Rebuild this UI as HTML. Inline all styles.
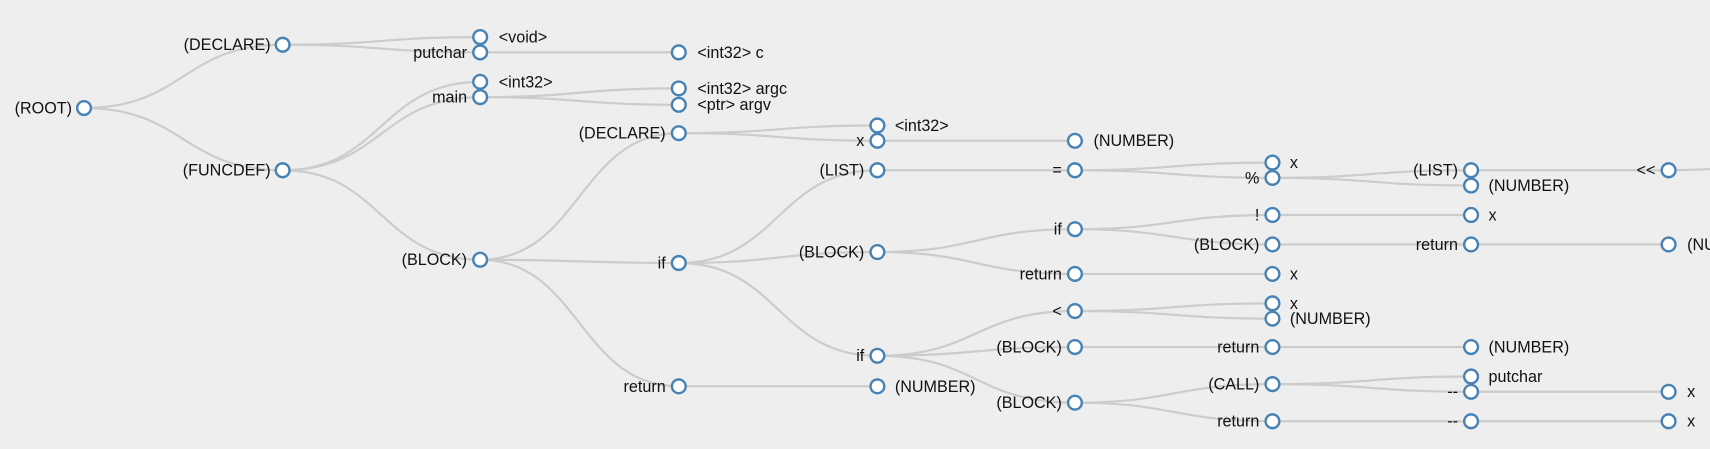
<!DOCTYPE html>
<html><head><meta charset="utf-8"><style>
html,body{margin:0;padding:0;background:#eee;width:1710px;height:449px;overflow:hidden}
svg{display:block}
.l{fill:none;stroke:#ccc;stroke-width:2}
circle{fill:#fff;stroke:#4682b4;stroke-width:2.2}
text{font-family:"Liberation Sans",sans-serif;font-size:14.8px;fill:#111}
.e{text-anchor:end}
</style></head><body>
<svg width="1710" height="449" viewBox="0 0 1710 449">
<g transform="scale(1.0913)">
<g class="links">
<path class="l" d="M77,99 C168,99 168,41 259,41"/>
<path class="l" d="M77,99 C168,99 168,156 259,156"/>
<path class="l" d="M259,41 C349.5,41 349.5,34 440,34"/>
<path class="l" d="M259,41 C349.5,41 349.5,48 440,48"/>
<path class="l" d="M440,48 L622,48"/>
<path class="l" d="M259,156 C349.5,156 349.5,75 440,75"/>
<path class="l" d="M259,156 C349.5,156 349.5,89 440,89"/>
<path class="l" d="M259,156 C349.5,156 349.5,238 440,238"/>
<path class="l" d="M440,89 C531,89 531,81 622,81"/>
<path class="l" d="M440,89 C531,89 531,96 622,96"/>
<path class="l" d="M440,238 C531,238 531,122 622,122"/>
<path class="l" d="M440,238 C531,238 531,241 622,241"/>
<path class="l" d="M440,238 C531,238 531,354 622,354"/>
<path class="l" d="M622,122 C713,122 713,115 804,115"/>
<path class="l" d="M622,122 C713,122 713,129 804,129"/>
<path class="l" d="M804,129 L985,129"/>
<path class="l" d="M622,241 C713,241 713,156 804,156"/>
<path class="l" d="M622,241 C713,241 713,231 804,231"/>
<path class="l" d="M622,241 C713,241 713,326 804,326"/>
<path class="l" d="M622,354 L804,354"/>
<path class="l" d="M804,156 L985,156"/>
<path class="l" d="M985,156 C1075.5,156 1075.5,149 1166,149"/>
<path class="l" d="M985,156 C1075.5,156 1075.5,163 1166,163"/>
<path class="l" d="M1166,163 C1257,163 1257,156 1348,156"/>
<path class="l" d="M1166,163 C1257,163 1257,170 1348,170"/>
<path class="l" d="M1348,156 L1529,156"/>
<path class="l" d="M1529,156 C1548,156 1560,155 1570,155"/>
<path class="l" d="M804,231 C894.5,231 894.5,210 985,210"/>
<path class="l" d="M804,231 C894.5,231 894.5,251 985,251"/>
<path class="l" d="M985,210 C1075.5,210 1075.5,197 1166,197"/>
<path class="l" d="M985,210 C1075.5,210 1075.5,224 1166,224"/>
<path class="l" d="M1166,197 L1348,197"/>
<path class="l" d="M1166,224 L1348,224"/>
<path class="l" d="M1348,224 L1529,224"/>
<path class="l" d="M985,251 L1166,251"/>
<path class="l" d="M804,326 C894.5,326 894.5,285 985,285"/>
<path class="l" d="M804,326 C894.5,326 894.5,318 985,318"/>
<path class="l" d="M804,326 C894.5,326 894.5,369 985,369"/>
<path class="l" d="M985,285 C1075.5,285 1075.5,278 1166,278"/>
<path class="l" d="M985,285 C1075.5,285 1075.5,292 1166,292"/>
<path class="l" d="M985,318 L1166,318"/>
<path class="l" d="M1166,318 L1348,318"/>
<path class="l" d="M985,369 C1075.5,369 1075.5,352 1166,352"/>
<path class="l" d="M985,369 C1075.5,369 1075.5,386 1166,386"/>
<path class="l" d="M1166,352 C1257,352 1257,345 1348,345"/>
<path class="l" d="M1166,352 C1257,352 1257,359 1348,359"/>
<path class="l" d="M1348,359 L1529,359"/>
<path class="l" d="M1166,386 L1348,386"/>
<path class="l" d="M1348,386 L1529,386"/>
</g>
<g>
<circle cx="77" cy="99" r="6.3"/><text class="e" x="66" y="104">(ROOT)</text>
<circle cx="259" cy="41" r="6.3"/><text class="e" x="248" y="46">(DECLARE)</text>
<circle cx="259" cy="156" r="6.3"/><text class="e" x="248" y="161">(FUNCDEF)</text>
<circle cx="440" cy="34" r="6.3"/><text x="457" y="39">&lt;void&gt;</text>
<circle cx="440" cy="48" r="6.3"/><text class="e" x="428" y="53">putchar</text>
<circle cx="622" cy="48" r="6.3"/><text x="639" y="53">&lt;int32&gt; c</text>
<circle cx="440" cy="75" r="6.3"/><text x="457" y="80">&lt;int32&gt;</text>
<circle cx="440" cy="89" r="6.3"/><text class="e" x="428" y="94">main</text>
<circle cx="622" cy="81" r="6.3"/><text x="639" y="86">&lt;int32&gt; argc</text>
<circle cx="622" cy="96" r="6.3"/><text x="639" y="101">&lt;ptr&gt; argv</text>
<circle cx="440" cy="238" r="6.3"/><text class="e" x="428" y="243">(BLOCK)</text>
<circle cx="622" cy="122" r="6.3"/><text class="e" x="610" y="127">(DECLARE)</text>
<circle cx="622" cy="241" r="6.3"/><text class="e" x="610" y="246">if</text>
<circle cx="622" cy="354" r="6.3"/><text class="e" x="610" y="359">return</text>
<circle cx="804" cy="115" r="6.3"/><text x="820" y="120">&lt;int32&gt;</text>
<circle cx="804" cy="129" r="6.3"/><text class="e" x="792" y="134">x</text>
<circle cx="985" cy="129" r="6.3"/><text x="1002" y="134">(NUMBER)</text>
<circle cx="804" cy="156" r="6.3"/><text class="e" x="792" y="161">(LIST)</text>
<circle cx="804" cy="231" r="6.3"/><text class="e" x="792" y="236">(BLOCK)</text>
<circle cx="804" cy="326" r="6.3"/><text class="e" x="792" y="331">if</text>
<circle cx="804" cy="354" r="6.3"/><text x="820" y="359">(NUMBER)</text>
<circle cx="985" cy="156" r="6.3"/><text class="e" x="973" y="161">=</text>
<circle cx="1166" cy="149" r="6.3"/><text x="1182" y="154">x</text>
<circle cx="1166" cy="163" r="6.3"/><text class="e" x="1154" y="168">%</text>
<circle cx="1348" cy="156" r="6.3"/><text class="e" x="1336" y="161">(LIST)</text>
<circle cx="1348" cy="170" r="6.3"/><text x="1364" y="175">(NUMBER)</text>
<circle cx="1529" cy="156" r="6.3"/><text class="e" x="1517" y="161">&lt;&lt;</text>
<circle cx="985" cy="210" r="6.3"/><text class="e" x="973" y="215">if</text>
<circle cx="1166" cy="197" r="6.3"/><text class="e" x="1154" y="202">!</text>
<circle cx="1348" cy="197" r="6.3"/><text x="1364" y="202">x</text>
<circle cx="1166" cy="224" r="6.3"/><text class="e" x="1154" y="229">(BLOCK)</text>
<circle cx="1348" cy="224" r="6.3"/><text class="e" x="1336" y="229">return</text>
<circle cx="1529" cy="224" r="6.3"/><text x="1546" y="229">(NUMBER)</text>
<circle cx="985" cy="251" r="6.3"/><text class="e" x="973" y="256">return</text>
<circle cx="1166" cy="251" r="6.3"/><text x="1182" y="256">x</text>
<circle cx="985" cy="285" r="6.3"/><text class="e" x="973" y="290">&lt;</text>
<circle cx="1166" cy="278" r="6.3"/><text x="1182" y="283">x</text>
<circle cx="1166" cy="292" r="6.3"/><text x="1182" y="297">(NUMBER)</text>
<circle cx="985" cy="318" r="6.3"/><text class="e" x="973" y="323">(BLOCK)</text>
<circle cx="1166" cy="318" r="6.3"/><text class="e" x="1154" y="323">return</text>
<circle cx="1348" cy="318" r="6.3"/><text x="1364" y="323">(NUMBER)</text>
<circle cx="985" cy="369" r="6.3"/><text class="e" x="973" y="374">(BLOCK)</text>
<circle cx="1166" cy="352" r="6.3"/><text class="e" x="1154" y="357">(CALL)</text>
<circle cx="1348" cy="345" r="6.3"/><text x="1364" y="350">putchar</text>
<circle cx="1348" cy="359" r="6.3"/><text class="e" x="1336" y="364">--</text>
<circle cx="1529" cy="359" r="6.3"/><text x="1546" y="364">x</text>
<circle cx="1166" cy="386" r="6.3"/><text class="e" x="1154" y="391">return</text>
<circle cx="1348" cy="386" r="6.3"/><text class="e" x="1336" y="391">--</text>
<circle cx="1529" cy="386" r="6.3"/><text x="1546" y="391">x</text>
</g>
</g>
</svg>
</body></html>
